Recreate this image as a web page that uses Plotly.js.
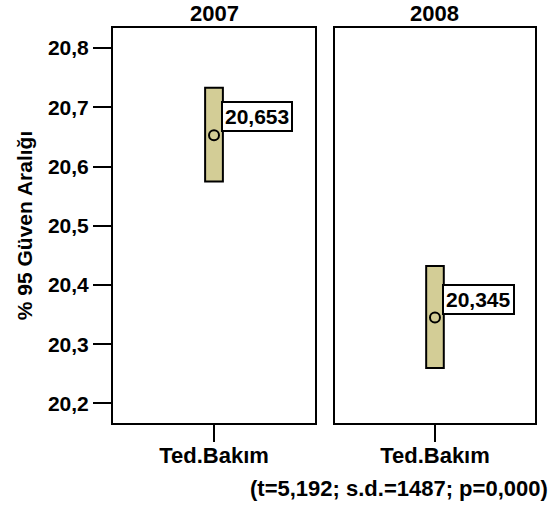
<!DOCTYPE html>
<html>
<head>
<meta charset="utf-8">
<script src="https://cdn.plot.ly/plotly-3.0.1.min.js"></script>
<style>
  html, body { margin: 0; padding: 0; background: #ffffff; }
  #chart { width: 549px; height: 508px; }
</style>
</head>
<body>
<div id="chart"></div>
<script>
// Yearly 95% confidence intervals with the group mean
const years = ['2007', '2008'];
const category = ['Ted.Bakım'];
const means = [20.653, 20.345];
const lowerCI = [20.575, 20.260];
const upperCI = [20.733, 20.432];
const yTicks = [20.2, 20.3, 20.4, 20.5, 20.6, 20.7, 20.8];
const footnote = '(t=5,192; s.d.=1487; p=0,000)';

const FONT = 'Liberation Sans, Arial, sans-serif';
const FILL = '#d3cd96';
const fmt = v => v.toFixed(3).replace('.', ',');

const traces = [];
const annotations = [];

years.forEach((yr, i) => {
  const xa = i === 0 ? 'x' : 'x2';
  const ya = i === 0 ? 'y' : 'y2';
  // interval bar: from the lower to the upper bound
  traces.push({
    type: 'bar',
    x: category,
    y: [upperCI[i] - lowerCI[i]],
    base: [lowerCI[i]],
    width: 0.088,
    xaxis: xa, yaxis: ya,
    marker: { color: FILL, line: { color: '#000000', width: 2 } },
    hoverinfo: 'skip',
    showlegend: false
  });
  // mean marker
  traces.push({
    type: 'scatter',
    mode: 'markers',
    x: category,
    y: [means[i]],
    xaxis: xa, yaxis: ya,
    marker: { symbol: 'circle', size: 10, color: FILL, line: { color: '#000000', width: 2 } },
    showlegend: false
  });
  // mean value label
  annotations.push({
    xref: xa, yref: ya,
    x: category[0], y: means[i],
    text: '<b>' + fmt(means[i]) + '</b>',
    showarrow: false,
    xanchor: 'left', yanchor: 'bottom',
    xshift: 7, yshift: 3,
    bgcolor: '#ffffff',
    bordercolor: '#000000',
    borderwidth: 2,
    borderpad: 2,
    font: { family: FONT, size: 21, color: '#000000' }
  });
  // panel heading
  annotations.push({
    xref: (i === 0 ? 'x' : 'x2') + ' domain', yref: 'paper',
    x: 0.5, y: 1,
    xanchor: 'center', yanchor: 'bottom',
    yshift: 0,
    text: '<b>' + yr + '</b>',
    showarrow: false,
    font: { family: FONT, size: 22, color: '#000000' }
  });
});

annotations.push({
  xref: 'paper', yref: 'paper',
  x: 1.036, y: -0.165,
  xanchor: 'right', yanchor: 'middle',
  text: '<b>' + footnote + '</b>',
  showarrow: false,
  font: { family: FONT, size: 22, color: '#000000' }
});

const xCommon = {
  type: 'category',
  range: [-0.5, 0.5],
  showline: true, mirror: true,
  linecolor: '#000000', linewidth: 2,
  ticks: 'outside', ticklen: 17, tickwidth: 2, tickcolor: '#000000',
  ticklabelstandoff: -5,
  tickfont: { family: FONT, size: 22, color: '#000000', weight: 'bold' },
  showgrid: false, zeroline: false, fixedrange: true
};
const yRange = [20.167, 20.834];

const layout = {
  width: 549, height: 508,
  margin: { l: 113, r: 14, t: 28, b: 85 },
  paper_bgcolor: '#ffffff',
  plot_bgcolor: '#ffffff',
  separators: ',.',
  showlegend: false,
  barmode: 'overlay',
  xaxis: Object.assign({}, xCommon, { domain: [0, 0.4787], anchor: 'y' }),
  xaxis2: Object.assign({}, xCommon, { domain: [0.526, 1], anchor: 'y2' }),
  yaxis: {
    range: yRange,
    tickvals: yTicks,
    tickformat: '.1f',
    showline: true, mirror: true,
    linecolor: '#000000', linewidth: 2,
    ticks: 'outside', ticklen: 18, tickwidth: 2, tickcolor: '#000000',
    tickfont: { family: FONT, size: 21, color: '#000000', weight: 'bold' },
    showgrid: false, zeroline: false, fixedrange: true,
    anchor: 'x',
    title: { text: '<b>% 95 Güven Aralığı</b>', standoff: 10,
             font: { family: FONT, size: 21, color: '#000000' } }
  },
  yaxis2: {
    range: yRange,
    matches: 'y',
    showticklabels: false,
    ticks: '',
    showline: true, mirror: true,
    linecolor: '#000000', linewidth: 2,
    showgrid: false, zeroline: false, fixedrange: true,
    anchor: 'x2'
  },
  annotations: annotations
};

Plotly.newPlot('chart', traces, layout, { displayModeBar: false, staticPlot: true });
</script>
</body>
</html>
